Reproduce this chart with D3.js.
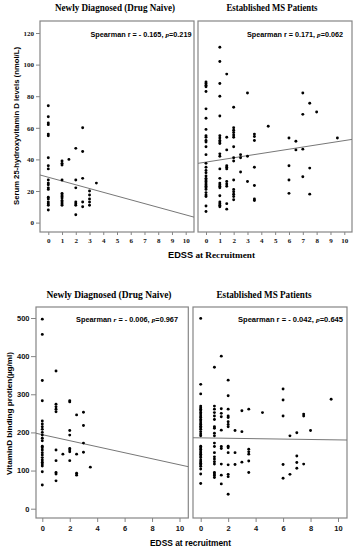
<!DOCTYPE html>
<html>
<head>
<meta charset="utf-8">
<script src="https://cdn.jsdelivr.net/npm/d3@7/dist/d3.min.js"></script>
<style>
body{margin:0;background:#fff;}
svg{display:block;}
</style>
</head>
<body>
<div id="chart"></div>
<script>
//data - each entry is [EDSS score, values measured at that score]
const vitdNaive = [
    [0, [74,67,63,62,56,55,41,36,34,27,25,24,22,21,16,15,13,12,11,8]],
    [1, [39,37.5,36.5,27,18.5,17.5,16.5,15.5,14,13,12,11]],
    [1.5, [40]],
    [2, [47,27,22,13,12,11,5]],
    [2.5, [60,45,28,13,10]],
    [3, [20,17.5,15,13,11]],
    [3.5, [25]]
];
const vitdEstablished = [
    [0, [89,88,87,86,83,72,66,59,55,54,52,51,48,43,37.5,35,33,31.5,29.5,28,27,26,25,24,23,22,21,19,17.5,16.5,10.5,7]],
    [1, [111,102,88,80,67.5,55,53.5,52,51,50,43.5,42,34,28,25,24,23,22,17,13,12,11,10]],
    [1.5, [94,54,46,36,35,34,26,24.5,23,12,8.5]],
    [2, [73,60,58.5,57,55.5,54,48,41,39,27,21,19.5,18,16.5,14.5]],
    [2.5, [43,41,32]],
    [3, [82,42,26]],
    [3.5, [56,54.5,52,35,23.5,15,14]],
    [4.5, [61]],
    [6, [53.5,36,27,18.5]],
    [6.5, [51.5,46]],
    [7, [82,68.5,46.5,29]],
    [7.5, [75.5,34.5,18]],
    [8, [70]],
    [9.5, [53.5]]
];
const dbpNaive = [
    [0, [497,457,336,283,230,222,215,208,200,193,185,178,164,160,154,147,141,134,128,122,117,112,97,62]],
    [1, [361,274,267,261,254,154,126,95,91,73]],
    [1.5, [143]],
    [2, [283,280,205,193,158,154,149,126]],
    [2.5, [246,143,93,88]],
    [3, [253,218,172,148]],
    [3.5, [109]]
];
const dbpEstablished = [
    [0, [499,326,301,269,265,261,257,252,248,243,239,234,230,225,221,216,212,208,202,196,191,164,160,156,151,147,143,138,134,128,123,119,115,111,104,91,66]],
    [1, [371,269,261,252,243,234,215,211,198,191,172,163,147,136,130,123,117,95,91,87,82]],
    [1.5, [400,262,250,241,206,163,158,117,88,65]],
    [2, [337,296,261,243,239,228,221,215,164,160,147,115,90,84,38]],
    [2.5, [205,147,116]],
    [3, [257,202,122]],
    [3.5, [261,156,149,143,125,95]],
    [4.5, [252]],
    [6, [314,285,243,116,80]],
    [6.5, [191,90]],
    [7, [199,138,121,106]],
    [7.5, [248,243,117]],
    [8, [205]],
    [9.5, [287]]
];

//linear fit lines (intercept, slope) per panel
const fitIntercept = [28.7, 38.3, 194.1, 185.7];
const fitSlope = [-2.38, 1.36, -7.89, -0.53];

//texts
const panelTitles = ['Newly Diagnosed (Drug Naive)', 'Established MS Patients', 'Newly Diagnosed (Drug Naive)', 'Established MS Patients'];
const spearmanR = ['- 0.165', '0.171', '- 0.006', '- 0.042'];
const spearmanP = ['0.219', '0.062', '0.967', '0.645'];

//tick labels
const vitdTicks = [0, 20, 40, 60, 80, 100, 120];
const dbpTicks = [0, 100, 200, 300, 400, 500];
const edssTicksTop = [0, 1, 2, 3, 4, 5, 6, 7, 8, 9, 10];
const edssTicksBottom = [0, 2, 4, 6, 8, 10];

const CONSTANTS = {
    WIDTH: 357,
    HEIGHT: 550,
    FRAME_COLOR: '#858585',
    LINE_COLOR: '#777',
    SERIF: '"Liberation Serif", "Times New Roman", serif',
    SANS: '"Liberation Sans", Arial, sans-serif'
};

//layout of the four panels (pixel boxes only)
const panels = [
    {data: vitdNaive, frame: [40, 194, 21, 232], xRange: [48.3, 185.7], yDomain: [0, 120], yRange: [222.6, 33],
     xTicks: edssTicksTop, yTicks: vitdTicks, showY: true, tickFont: CONSTANTS.SERIF,
     titleX: 115, titleY: 11, titleW: 120, noteX: 90.5, noteY: 36.5, noteW: 101, rItalic: false},
    {data: vitdEstablished, frame: [198, 352, 21, 232], xRange: [206, 344.3], yDomain: [0, 120], yRange: [222.6, 33],
     xTicks: edssTicksTop, yTicks: vitdTicks, showY: false, tickFont: CONSTANTS.SERIF,
     titleX: 272, titleY: 11, titleW: 91, noteX: 247, noteY: 36.5, noteW: 96, rItalic: false},
    {data: dbpNaive, frame: [36, 188.3, 307, 518], xRange: [42.3, 179.5], yDomain: [0, 500], yRange: [508.7, 318],
     xTicks: edssTicksBottom, yTicks: dbpTicks, showY: true, tickFont: CONSTANTS.SANS,
     titleX: 109, titleY: 298, titleW: 125, noteX: 76, noteY: 322, noteW: 102, rItalic: true},
    {data: dbpEstablished, frame: [193, 347, 307, 518], xRange: [200.7, 338], yDomain: [0, 500], yRange: [508.7, 318],
     xTicks: edssTicksBottom, yTicks: dbpTicks, showY: false, tickFont: CONSTANTS.SANS,
     titleX: 264, titleY: 298, titleW: 95, noteX: 238, noteY: 322, noteW: 105, rItalic: false}
];

function main(){
    let svg = d3.select('#chart')
        .append('svg')
        .attr('width', CONSTANTS.WIDTH)
        .attr('height', CONSTANTS.HEIGHT);

    panels.forEach((p, i) => buildPanel(svg, p, i));

    //axis titles
    svg.append('text')
        .attr('transform', 'translate(18.5,126) rotate(-90)')
        .attr('text-anchor', 'middle')
        .attr('textLength', 158)
        .attr('lengthAdjust', 'spacingAndGlyphs')
        .style('font', 'bold 7.5px ' + CONSTANTS.SANS)
        .text('Serum 25-hydroxyvitamin D levels (nmol/L)');

    let xTitle = svg.append('text')
        .attr('x', 168)
        .attr('y', 257.5)
        .attr('textLength', 87)
        .attr('lengthAdjust', 'spacingAndGlyphs')
        .style('font-size', '9px')
        .style('font-weight', 'bold');
    xTitle.append('tspan').style('font-family', CONSTANTS.SANS).text('EDSS');
    xTitle.append('tspan').style('font-family', CONSTANTS.SERIF).text(' at Recruitment');

    svg.append('text')
        .attr('transform', 'translate(11.5,413.5) rotate(-90)')
        .attr('text-anchor', 'middle')
        .attr('textLength', 123)
        .attr('lengthAdjust', 'spacingAndGlyphs')
        .style('font', 'bold 7.5px ' + CONSTANTS.SANS)
        .text('VitaminD binding protien(\u00b5g/ml)');

    svg.append('text')
        .attr('x', 150)
        .attr('y', 545.5)
        .attr('textLength', 81)
        .attr('lengthAdjust', 'spacingAndGlyphs')
        .style('font', 'bold 8.5px ' + CONSTANTS.SANS)
        .text('EDSS at recruitment');
}

function buildPanel(svg, p, i){
    let [x0, x1, y0, y1] = p.frame;
    let xScale = d3.scaleLinear().domain([0, 10]).range(p.xRange);
    let yScale = d3.scaleLinear().domain(p.yDomain).range(p.yRange);
    let g = svg.append('g');

    //title
    g.append('text')
        .attr('x', p.titleX)
        .attr('y', p.titleY)
        .attr('text-anchor', 'middle')
        .attr('textLength', p.titleW)
        .attr('lengthAdjust', 'spacingAndGlyphs')
        .style('font', 'bold 9.5px ' + CONSTANTS.SERIF)
        .text(panelTitles[i]);

    //frame
    g.append('rect')
        .attr('x', x0)
        .attr('y', y0)
        .attr('width', x1 - x0)
        .attr('height', y1 - y0)
        .attr('fill', 'none')
        .attr('stroke', CONSTANTS.FRAME_COLOR)
        .attr('stroke-width', 1.2);

    //axes
    let bottom = i < 2;
    let xAxis = d3.axisBottom(xScale)
        .tickValues(p.xTicks)
        .tickFormat(d3.format('d'))
        .tickSize(bottom ? 3 : 4)
        .tickPadding(bottom ? 3 : 4);
    let gx = g.append('g')
        .attr('transform', 'translate(0,' + y1 + ')')
        .call(xAxis);
    styleAxis(gx, p.tickFont, bottom ? 7 : 7.5);

    if(p.showY){
        let yAxis = d3.axisLeft(yScale)
            .tickValues(p.yTicks)
            .tickSize(bottom ? 4 : 5)
            .tickPadding(bottom ? 2 : 1.5);
        let gy = g.append('g')
            .attr('transform', 'translate(' + x0 + ',0)')
            .call(yAxis);
        styleAxis(gy, p.tickFont, bottom ? 7 : 7.5);
    }

    //fit line over the whole frame width
    let a = xScale.invert(x0), b = xScale.invert(x1);
    g.append('line')
        .attr('x1', xScale(a))
        .attr('y1', yScale(fitIntercept[i] + fitSlope[i] * a))
        .attr('x2', xScale(b))
        .attr('y2', yScale(fitIntercept[i] + fitSlope[i] * b))
        .attr('stroke', CONSTANTS.LINE_COLOR)
        .attr('stroke-width', 1);

    //points
    let points = [];
    p.data.forEach(col => col[1].forEach(v => points.push([col[0], v])));
    g.selectAll('circle')
        .data(points)
        .enter()
        .append('circle')
        .attr('cx', d => xScale(d[0]))
        .attr('cy', d => yScale(d[1]))
        .attr('r', 1.45)
        .attr('fill', '#000');

    //spearman note
    let note = g.append('text')
        .attr('x', p.noteX)
        .attr('y', p.noteY)
        .attr('textLength', p.noteW)
        .attr('lengthAdjust', 'spacingAndGlyphs')
        .style('font', 'bold 7px ' + CONSTANTS.SANS);
    note.append('tspan').text('Spearman ');
    note.append('tspan')
        .style('font-style', p.rItalic ? 'italic' : 'normal')
        .style('font-family', p.rItalic ? CONSTANTS.SERIF : CONSTANTS.SANS)
        .text('r');
    note.append('tspan').text(' = ' + spearmanR[i] + ', ');
    note.append('tspan').style('font-style', 'italic').style('font-family', CONSTANTS.SERIF).text('p');
    note.append('tspan').text('=' + spearmanP[i]);
}

function styleAxis(sel, font, size){
    sel.select('.domain').remove();
    sel.selectAll('.tick line').attr('stroke', CONSTANTS.FRAME_COLOR);
    sel.selectAll('.tick text')
        .attr('fill', '#111')
        .style('font-family', font)
        .style('font-weight', 'bold')
        .style('font-size', size + 'px');
}

main();
</script>
</body>
</html>
